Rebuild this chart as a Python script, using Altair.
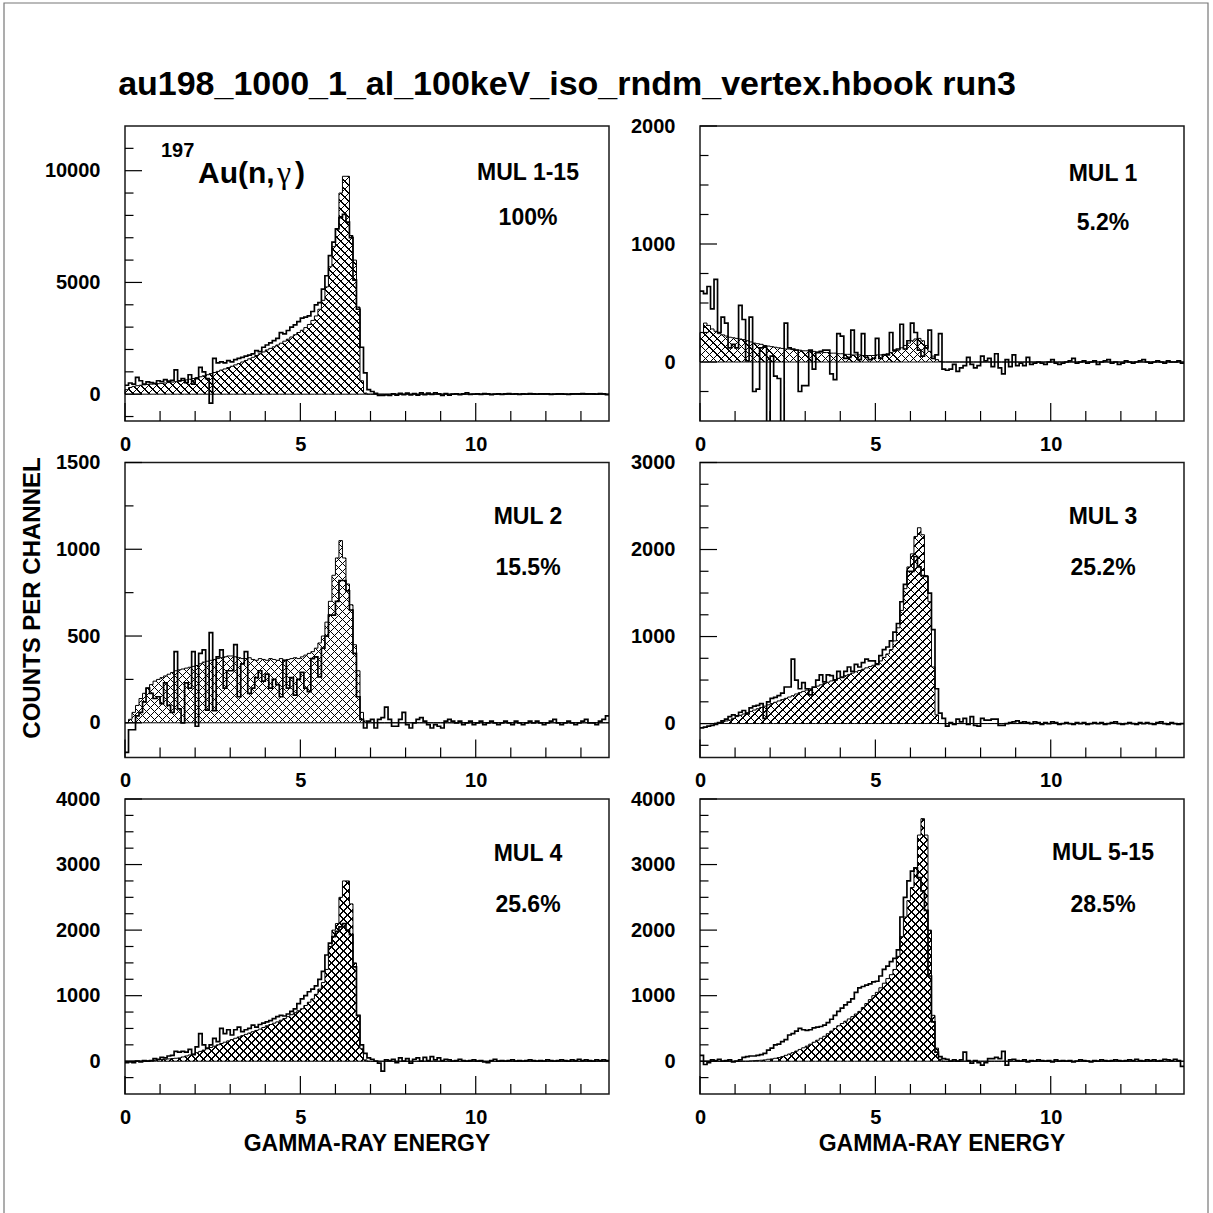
import altair as alt
import pandas as pd

# ---------------------------------------------------------------- data
BIN = 0.1          # MeV per channel
E_MAX = 13.8       # upper edge of the energy axis

TITLE = "au198_1000_1_al_100keV_iso_rndm_vertex.hbook run3"
MUL_LABELS = ["MUL 1-15", "MUL 1", "MUL 2", "MUL 3", "MUL 4", "MUL 5-15"]
FRACTIONS = ["100%", "5.2%", "15.5%", "25.2%", "25.6%", "28.5%"]

Y_DOMAINS = [(-1200, 12000), (-500, 2000), (-200, 1500),
             (-390, 3000), (-500, 4000), (-500, 4000)]
Y_MAJOR = [[0, 5000, 10000], [0, 1000, 2000], [0, 500, 1000, 1500],
           [0, 1000, 2000, 3000], [0, 1000, 2000, 3000, 4000],
           [0, 1000, 2000, 3000, 4000]]
Y_MINOR = [[-1000, 1000, 2000, 3000, 4000, 6000, 7000, 8000, 9000, 11000],
           [-250, 250, 500, 750, 1250, 1500, 1750],
           [250, 750, 1250],
           [-250, 250, 500, 750, 1250, 1500, 1750, 2250, 2500, 2750],
           [-250, 250, 500, 750, 1250, 1500, 1750, 2250, 2500, 2750, 3250, 3500, 3750],
           [-250, 250, 500, 750, 1250, 1500, 1750, 2250, 2500, 2750, 3250, 3500, 3750]]
X_MAJOR = [0, 5, 10]
X_MINOR = [1, 2, 3, 4, 6, 7, 8, 9, 11, 12, 13]

# simulated spectra (hatched), one value per 0.1 MeV channel
SIM_A = [
    200, 300, 350, 380, 400, 420, 440, 450, 460, 470,
    480, 500, 520, 540, 560, 580, 610, 640, 670, 700,
    740, 780, 820, 870, 920, 970, 1020, 1080, 1130, 1190,
    1250, 1310, 1370, 1440, 1510, 1580, 1650, 1730, 1810, 1890,
    1980, 2050, 2120, 2200, 2280, 2370, 2460, 2560, 2660, 2760,
    2860, 2980, 3120, 3300, 3500, 3800, 4200, 4800, 5700, 6600,
    7400, 9000, 9750, 9750, 7100, 6000, 3900, 600, 50, 0,
    0, 0, 0, 0, 0, 0, 0, 0, 0, 0,
    0, 0, 0, 0, 0, 0, 0, 0, 0, 0,
    0, 0, 0, 0, 0, 0, 0, 0, 0, 0,
    0, 0, 0, 0, 0, 0, 0, 0, 0, 0,
    0, 0, 0, 0, 0, 0, 0, 0, 0, 0,
    0, 0, 0, 0, 0, 0, 0, 0, 0, 0,
    0, 0, 0, 0, 0, 0, 0, 0,
]
SIM_B = [
    250, 330, 310, 280, 260, 240, 230, 220, 210, 205,
    200, 195, 190, 180, 170, 160, 155, 150, 140, 135,
    130, 125, 120, 115, 110, 110, 105, 100, 100, 95,
    95, 90, 90, 85, 85, 80, 80, 75, 75, 70,
    70, 65, 65, 60, 60, 60, 55, 55, 55, 55,
    60, 60, 65, 70, 80, 90, 100, 120, 140, 160,
    180, 195, 200, 180, 140, 90, 50, 20, 5, 0,
    0, 0, 0, 0, 0, 0, 0, 0, 0, 0,
    0, 0, 0, 0, 0, 0, 0, 0, 0, 0,
    0, 0, 0, 0, 0, 0, 0, 0, 0, 0,
    0, 0, 0, 0, 0, 0, 0, 0, 0, 0,
    0, 0, 0, 0, 0, 0, 0, 0, 0, 0,
    0, 0, 0, 0, 0, 0, 0, 0, 0, 0,
    0, 0, 0, 0, 0, 0, 0, 0,
]
SIM_C = [
    0, 20, 60, 100, 140, 170, 200, 220, 240, 250,
    260, 270, 280, 290, 300, 305, 310, 315, 320, 325,
    330, 340, 350, 355, 360, 365, 370, 375, 380, 385,
    385, 380, 375, 370, 370, 375, 365, 360, 370, 365,
    360, 370, 365, 360, 370, 360, 365, 370, 375, 370,
    380, 390, 400, 410, 430, 460, 500, 580, 700, 850,
    950, 1050, 950, 800, 680, 450, 300, 60, 10, 0,
    0, 0, 0, 0, 0, 0, 0, 0, 0, 0,
    0, 0, 0, 0, 0, 0, 0, 0, 0, 0,
    0, 0, 0, 0, 0, 0, 0, 0, 0, 0,
    0, 0, 0, 0, 0, 0, 0, 0, 0, 0,
    0, 0, 0, 0, 0, 0, 0, 0, 0, 0,
    0, 0, 0, 0, 0, 0, 0, 0, 0, 0,
    0, 0, 0, 0, 0, 0, 0, 0,
]
SIM_D = [
    0, 0, 0, 0, 5, 10, 20, 30, 40, 60,
    80, 95, 110, 125, 140, 155, 170, 185, 200, 215,
    230, 245, 260, 275, 290, 305, 320, 340, 355, 370,
    385, 400, 415, 430, 445, 460, 475, 490, 505, 520,
    535, 550, 565, 580, 595, 610, 625, 640, 655, 670,
    690, 720, 760, 800, 850, 950, 1100, 1300, 1550, 1800,
    1950, 2150, 2250, 2170, 1700, 1400, 650, 100, 0, 0,
    0, 0, 0, 0, 0, 0, 0, 0, 0, 0,
    0, 0, 0, 0, 0, 0, 0, 0, 0, 0,
    0, 0, 0, 0, 0, 0, 0, 0, 0, 0,
    0, 0, 0, 0, 0, 0, 0, 0, 0, 0,
    0, 0, 0, 0, 0, 0, 0, 0, 0, 0,
    0, 0, 0, 0, 0, 0, 0, 0, 0, 0,
    0, 0, 0, 0, 0, 0, 0, 0,
]
SIM_E = [
    0, 0, 0, 0, 0, 0, 5, 10, 15, 20,
    25, 30, 35, 40, 45, 50, 65, 80, 95, 110,
    130, 150, 170, 190, 210, 230, 250, 270, 290, 310,
    330, 350, 370, 390, 410, 430, 450, 470, 490, 515,
    540, 560, 580, 600, 625, 650, 680, 710, 740, 770,
    800, 850, 900, 950, 1020, 1100, 1200, 1400, 1750, 2000,
    2100, 2500, 2750, 2750, 2400, 1500, 700, 190, 20, 0,
    0, 0, 0, 0, 0, 0, 0, 0, 0, 0,
    0, 0, 0, 0, 0, 0, 0, 0, 0, 0,
    0, 0, 0, 0, 0, 0, 0, 0, 0, 0,
    0, 0, 0, 0, 0, 0, 0, 0, 0, 0,
    0, 0, 0, 0, 0, 0, 0, 0, 0, 0,
    0, 0, 0, 0, 0, 0, 0, 0, 0, 0,
    0, 0, 0, 0, 0, 0, 0, 0,
]
SIM_F = [
    0, 0, 0, 0, 0, 0, 0, 0, 0, 0,
    0, 0, 0, 0, 5, 8, 12, 15, 20, 30,
    35, 45, 55, 70, 90, 110, 130, 155, 180, 205,
    230, 260, 290, 320, 350, 380, 420, 460, 500, 540,
    575, 610, 645, 680, 720, 760, 820, 880, 940, 1000,
    1050, 1120, 1190, 1260, 1320, 1400, 1600, 1900, 2200, 2450,
    2650, 2950, 3450, 3700, 3450, 2000, 700, 200, 30, 0,
    0, 0, 0, 0, 0, 0, 0, 0, 0, 0,
    0, 0, 0, 0, 0, 0, 0, 0, 0, 0,
    0, 0, 0, 0, 0, 0, 0, 0, 0, 0,
    0, 0, 0, 0, 0, 0, 0, 0, 0, 0,
    0, 0, 0, 0, 0, 0, 0, 0, 0, 0,
    0, 0, 0, 0, 0, 0, 0, 0, 0, 0,
    0, 0, 0, 0, 0, 0, 0, 0,
]

# measured spectra (open histograms), background subtracted
EXP_A = [
    400, 500, 450, 750, 600, 450, 550, 520, 480, 600,
    560, 650, 580, 620, 1090, 600, 700, 520, 870, 450,
    700, 1200, 1000, 700, -400, 1600, 1400, 1450, 1400, 1500,
    1450, 1550, 1600, 1650, 1700, 1750, 1800, 1950, 1900, 2100,
    2200, 2300, 2400, 2500, 2750, 2700, 2850, 3000, 3100, 3250,
    3400, 3450, 3500, 3700, 4000, 4100, 4700, 5300, 6200, 6800,
    7400, 7900, 8050, 7700, 7000, 5100, 3800, 2100, 950, 200,
    120, 40, -60, -50, -30, -60, 20, -40, 40, -20,
    50, -30, 30, -40, 60, -20, 50, -10, 60, 20,
    -60, 30, -40, 0, 20, -20, 10, 60, -10, 0,
    20, -10, 30, 10, -20, 0, 20, -10, 10, 30,
    0, 20, -10, 10, 0, 30, 10, 0, 20, 10,
    20, -10, 0, 10, 20, 0, -10, 10, 20, 10,
    30, 10, 20, 10, 0, 30, 20, -20,
]
EXP_B = [
    600, 580, 640, 450, 700, 250, 380, 330, 120, 150,
    120, 480, 360, 10, 380, -250, -230, 120, 130, -1500,
    50, -120, -140, -1500, 330, 120, 110, 100, -250, -200,
    -200, 100, -60, 80, 90, 100, 100, -100, -150, 240,
    220, 30, 40, 270, 80, 20, 240, 40, 20, 30,
    200, 30, 60, 60, 250, 100, 110, 320, 110, 180,
    330, 250, 100, 50, 120, 270, 30, 60, 240, -60,
    -70, -60, -20, -80, -50, -30, 40, -20, -50, -30,
    50, 10, 30, -40, 70, -50, -100, 20, -40, 60,
    -30, -10, -30, 40, -20, -10, 0, -10, -20, 0,
    20, -10, -20, -10, 0, 10, 30, -10, 0, 10,
    -10, 0, 10, -20, 0, 10, 20, -10, 0, -20,
    -10, 10, 0, -10, 0, 10, 20, 0, -10, 0,
    10, 0, -10, 10, 0, 0, 10, -10,
]
EXP_C = [
    -170, -40, -40, 40, 60, 120, 200, 170, 140, 150,
    110, 230, 100, 60, 410, 80, 0, 230, 200, 410,
    -20, 400, 420, 73, 520, 70, 380, 420, 200, 300,
    300, 450, 150, 340, 410, 170, 200, 260, 300, 240,
    280, 200, 250, 220, 150, 360, 200, 260, 160, 250,
    290, 200, 180, 370, 380, 265, 430, 500, 620, 620,
    700, 820, 820, 760, 650, 400, 150, 20, -30, 10,
    20, -30, 20, 30, 90, 20, -20, -20, 20, 60,
    -10, -30, 0, 20, 30, 10, -10, -30, -10, -20,
    -30, 10, 20, 10, 0, 10, -10, 0, 10, -10,
    0, 10, -10, 0, 10, 0, -10, 0, 10, 0,
    -10, 10, 0, -10, 0, 10, 0, 10, 0, -10,
    0, 10, 20, 0, -10, 0, 10, 0, -10, 0,
    10, 20, 0, 0, -10, 10, 20, 40,
]
EXP_D = [
    -50, -40, -30, -20, -10, 10, 30, 50, 80, 100,
    90, 130, 150, 110, 180, 200, 210, 230, 60, 250,
    290, 300, 320, 350, 420, 420, 740, 500, 400, 470,
    400, 330, 420, 500, 560, 480, 560, 550, 500, 600,
    530, 600, 650, 600, 680, 650, 700, 740, 720, 720,
    680, 780, 850, 880, 950, 1050, 1150, 1400, 1600, 1750,
    1750, 1920, 1800, 1700, 1690, 1500, 1080, 400, 120, 60,
    -30, 10, -10, 50, 20, 60, -10, 80, -20, -30,
    60, 40, 40, 50, 50, -20, -20, 0, 10, 20,
    30, 10, 20, 10, 0, 20, 10, -10, 10, 0,
    20, 10, -10, 0, 10, 0, -10, 10, 0, 10,
    -10, 0, 10, 0, 10, -10, 0, 10, 20, 0,
    -10, 0, 10, 0, -10, 10, 0, 10, 0, -10,
    10, 20, 0, -10, 10, 0, -10, 0,
]
EXP_E = [
    -20, -10, -20, 0, -10, 10, 0, 10, 40, 30,
    60, 50, 80, 90, 150, 140, 150, 140, 180, 100,
    220, 420, 250, 200, 250, 350, 300, 500, 420, 480,
    400, 480, 520, 450, 480, 500, 550, 520, 560, 580,
    600, 620, 650, 680, 700, 690, 720, 760, 800, 880,
    950, 1000, 1060, 1100, 1150, 1250, 1370, 1620, 1800, 1900,
    1980, 2050, 2100, 2000, 1930, 1440, 700, 250, 120, 50,
    30, 0, -30, -150, 20, 10, 30, -20, 50, 0,
    40, -30, 30, 50, 0, 60, 10, 70, 20, 50,
    10, 30, 20, 0, 10, 30, 10, 0, 10, 20,
    0, 10, -10, -20, 10, 30, 0, 10, 0, 10,
    20, 0, 10, 0, 10, 20, 10, 0, 10, 0,
    20, 10, 0, 10, 20, 10, 0, 20, 10, 30,
    10, 20, 10, 0, 20, 10, 20, 10,
]
EXP_F = [
    90, -50, -20, 20, 10, 30, 0, 10, 20, -10,
    0, 20, 60, 70, 80, 80, 90, 100, 120, 170,
    200, 250, 260, 300, 330, 400, 420, 460, 500, 480,
    470, 480, 510, 520, 530, 550, 590, 640, 700, 760,
    810, 860, 900, 950, 1050, 1120, 1140, 1160, 1180, 1210,
    1220, 1300, 1400, 1450, 1520, 1570, 1700, 2200, 2500, 2750,
    2900, 2950, 2800, 2600, 2300, 1300, 600, 140, 70, 40,
    30, 0, 20, 0, 20, 140, 10, -30, 10, -20,
    -60, -20, 40, 40, 60, 40, 150, -60, 20, 30,
    10, 0, 20, -10, 10, 0, 20, 10, 0, 10,
    -10, 20, 0, 10, 0, 10, -10, 0, 20, 10,
    0, -10, 10, 0, 20, 10, 0, 10, 20, 10,
    0, 10, 20, 10, 30, 10, 0, 20, 10, 20,
    0, 10, 30, 20, 10, 30, 10, -80,
]

SIMS = [SIM_A, SIM_B, SIM_C, SIM_D, SIM_E, SIM_F]
EXPS = [EXP_A, EXP_B, EXP_C, EXP_D, EXP_E, EXP_F]

# ---------------------------------------------------------------- layout
PW, PH = 484, 295            # plot frame of one panel, px
FONT = "Liberation Sans"
INK = "#000000"
CLEAR = "rgba(0,0,0,0)"

# label anchors inside each frame (px from the frame's top-left corner)
LABEL_X = [403, 403, 403, 403, 403, 403]
MUL_Y = [46.5, 48, 54, 54, 54.5, 54]
PCT_Y = [92, 96.5, 105.5, 105.5, 105.5, 105.5]


def step_frame(values):
    """Channel contents -> points for a step-after line closing at E_MAX."""
    n = len(values)
    edges = [round(i * BIN, 2) for i in range(n)] + [E_MAX]
    return pd.DataFrame({"E": edges, "v": list(values) + [values[-1]]})


def hatch_fill(box_w, box_h, slash=True, pitch=8.0, ink=1.4):
    """Diagonal stripes as a hard-stop linear gradient (bbox units)."""
    span = box_w + box_h
    n = span / pitch
    frac = ink / pitch
    s = span * box_w / (box_w ** 2 + box_h ** 2)
    stops = []
    k = 0
    while k / n < 1.0:
        a = round(k / n, 5)
        b = round(min((k + frac) / n, 1.0), 5)
        stops += [alt.GradientStop(color=CLEAR, offset=a),
                  alt.GradientStop(color=INK, offset=a),
                  alt.GradientStop(color=INK, offset=b),
                  alt.GradientStop(color=CLEAR, offset=b)]
        k += 1
    if slash:
        x1, y1, x2, y2 = 0, 0, s, s * box_h / box_w
    else:
        x1, y1, x2, y2 = 0, 1, s, 1 - s * box_h / box_w
    return alt.LinearGradient(gradient="linear", stops=stops,
                              x1=x1, y1=y1, x2=round(x2, 5), y2=round(y2, 5))


def text_layer(text, x, y, size, align="center", baseline="middle", angle=None,
               weight="bold", font=FONT):
    props = dict(font=font, fontSize=size, fontWeight=weight, align=align,
                 baseline=baseline, color=INK)
    if angle is not None:
        props["angle"] = angle
    return alt.Chart(pd.DataFrame({"t": [text]})).mark_text(**props).encode(
        text="t:N", x=alt.value(x), y=alt.value(y))


def panel(i):
    sim, exp = SIMS[i], EXPS[i]
    lo, hi = Y_DOMAINS[i]
    xs = alt.Scale(domain=[0, E_MAX], nice=False, zero=False)
    ys = alt.Scale(domain=[lo, hi], nice=False, zero=False)
    x_axis = alt.Axis(values=X_MAJOR, title=None, ticks=False, tickSize=0,
                      domain=False, grid=False, labelPadding=13,
                      labelFlush=False, labelOverlap=False, format="d")
    y_axis = alt.Axis(values=Y_MAJOR[i], title=None, ticks=False, tickSize=0,
                      domain=False, grid=False, labelPadding=25,
                      labelOverlap=False, format="d")
    X = alt.X("E:Q", scale=xs, axis=x_axis)
    Y = alt.Y("v:Q", scale=ys, axis=y_axis)

    sim_df = step_frame(sim)
    exp_df = step_frame(exp)
    box_h = max(sim) / (hi - lo) * PH

    hatch_a = alt.Chart(sim_df).mark_area(
        interpolate="step-after", fill=hatch_fill(PW, box_h, True),
        stroke=INK, strokeWidth=1).encode(x=X, y=Y, y2=alt.datum(0))
    hatch_b = alt.Chart(sim_df).mark_area(
        interpolate="step-after", fill=hatch_fill(PW, box_h, False),
        strokeWidth=0).encode(x=X, y=Y, y2=alt.datum(0))
    measured = alt.Chart(exp_df).mark_line(
        interpolate="step-after", color=INK, strokeWidth=1.7, clip=True
    ).encode(x=X, y=Y)

    ymaj = alt.Chart(pd.DataFrame({"v": Y_MAJOR[i]})).mark_rule(
        color=INK, strokeWidth=1.2).encode(y=Y, x=alt.value(0), x2=alt.value(17))
    ymin = alt.Chart(pd.DataFrame({"v": Y_MINOR[i]})).mark_rule(
        color=INK, strokeWidth=1.2).encode(y=Y, x=alt.value(0), x2=alt.value(8.5))
    xmaj = alt.Chart(pd.DataFrame({"E": X_MAJOR})).mark_rule(
        color=INK, strokeWidth=1.2).encode(x=X, y=alt.value(PH), y2=alt.value(PH - 18))
    xmin = alt.Chart(pd.DataFrame({"E": X_MINOR})).mark_rule(
        color=INK, strokeWidth=1.2).encode(x=X, y=alt.value(PH), y2=alt.value(PH - 10))

    layers = [hatch_a, hatch_b, measured, ymaj, ymin, xmaj, xmin,
              text_layer(MUL_LABELS[i], LABEL_X[i], MUL_Y[i], 23),
              text_layer(FRACTIONS[i], LABEL_X[i], PCT_Y[i], 23)]

    if i == 0:
        page = alt.Chart(pd.DataFrame({"t": [0]})).mark_rect(
            filled=False, stroke="#777777", strokeWidth=1.2).encode(
            x=alt.value(4 - 125), x2=alt.value(1208 - 125),
            y=alt.value(3 - 126), y2=alt.value(1240 - 126))
        layers = [page] + layers + [
            text_layer(TITLE, 442, -41, 34),
            text_layer("197", 36, 31, 20, align="left", baseline="alphabetic"),
            text_layer("Au(n,", 73, 57, 30, align="left", baseline="alphabetic"),
            text_layer("\u03b3", 152, 57, 32, align="left", baseline="alphabetic",
                       weight="normal", font="Liberation Serif"),
            text_layer(")", 170, 57, 30, align="left", baseline="alphabetic"),
        ]
    if i == 2:
        layers.append(text_layer("COUNTS PER CHANNEL", -92.5, 135.5, 24, angle=270))
    if i >= 4:
        layers.append(text_layer("GAMMA-RAY ENERGY", PW / 2, PH + 50, 23))

    return alt.layer(*layers).properties(width=PW, height=PH)


panels = [panel(i) for i in range(6)]

chart = alt.concat(
    *panels, columns=2, spacing={"row": 41.5, "column": 91}, bounds="flush"
).properties(
    autosize=alt.AutoSizeParams(type="none"),
    padding={"left": 125, "top": 126, "right": 1088, "bottom": 1087},
    background="white",
).configure_view(
    stroke="#1a1a1a", strokeWidth=1.5
).configure_axis(
    labelFont=FONT, labelFontSize=20, labelFontWeight="bold", labelColor=INK
)

chart.save("out.html", embed_options={"renderer": "svg", "actions": False})
